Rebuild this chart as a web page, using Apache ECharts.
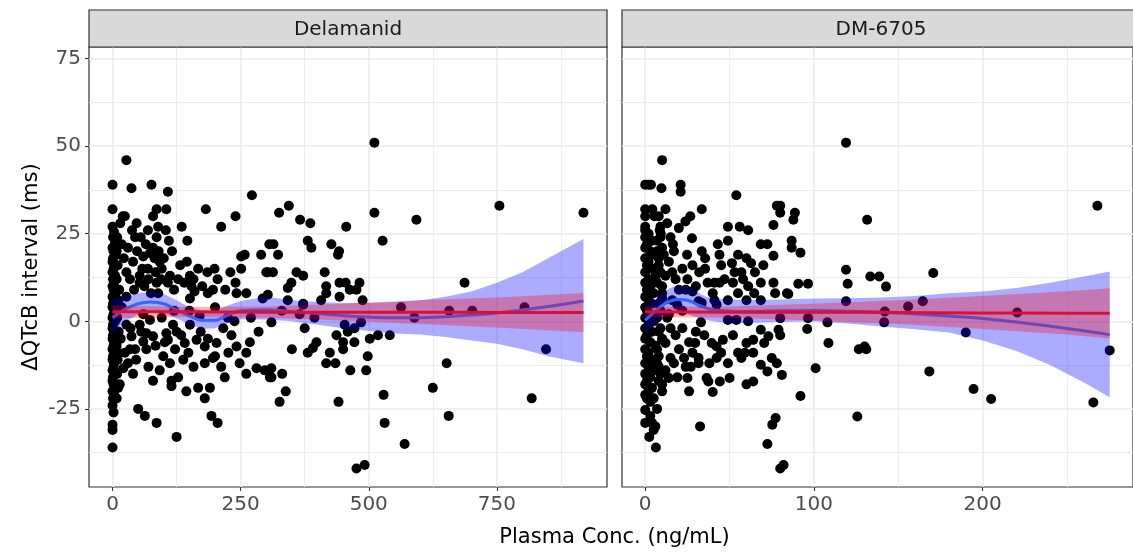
<!DOCTYPE html>
<html>
<head>
<meta charset="utf-8">
<script src="https://cdn.jsdelivr.net/npm/echarts@6/dist/echarts.min.js"></script>
<style>
  html, body { margin: 0; padding: 0; background: #ffffff; }
  #chart { width: 1133px; height: 552px; }
</style>
</head>
<body>
<div id="chart"></div>
<script>
// ---- Observations: [plasma concentration (ng/mL), ΔQTcB (ms)] ----
const delamanidPoints = [
  [0,39],[0,32],[0,27],[3,25.5],[1,24],[5,22.5],[0,21],[2,20],[6,19],[1,18],[0,17],[4,16],[2,15],[0,14],[5,13],[1,12],[3,11],[0,10],[2,9],[6,8],[0,7],[3,6],[1,5],[0,4],[4,3],[2,2],[0,1],[5,0],[1,-1],[0,-2],[3,-3],[1,-4],[0,-5],[4,-6],[2,-7],[0,-8],[5,-9],[1,-10],[0,-11],[3,-12],[2,-13],[0,-14],[4,-15],[1,-16],[0,-17],[2,-18],[5,-19],[0,-20],[3,-21],[1,-22],[0,-24],[2,-26],[0,-29.5],[0,-31],[0,-36],
  [9,24],[10,16],[8,12],[11,6],[9,1],[12,-3],[8,-7],[10,-11],[9,-15],[11,-19],[8,-22],[13,9],[12,-9],[8,20],
  [27,46],[37,38],[76,39],[108,37],[272,36],[20,30],[24,30],[47,28],[86,32],[105,32],[79,30],[69,26],[89,27],[135,27],[182,32],[240,30],[212,27],[146,23],[44,24],[86,24],[110,23],[40,17],[60,18.5],[73,19.5],[79,21],[92,17],[27,14],[53,13],[53,11],[69,15],[96,15],[112,13],[128,12],[86,11],[108,11],[151,13],[167,15],[199,15],[154,10],[160,8.5],[186,8],[196,9],[240,11],[242,8],[251,18.5],[258,19],[251,15],[290,19],[300,14],[306,22],[261,8],[89,8],[27,7],
  [511,51],[344,33],[325,31],[366,29],[386,28],[456,27],[511,31],[593,29],[527,23],[314,22],[323,19],[381,23],[388,21],[427,22],[442,20],[440,19],[303,14],[313,14],[359,14],[372,13],[414,14],[349,11],[342,9.5],[417,10],[417,8],[443,11],[455,11],[463,9],[482,11],[476,9],[443,7],[303,7.6],[342,6],[372,5],[407,6],[488,6],[563,4],
  [755,33],[919,31],[687,11],[657,3],[702,3],[804,4],[846,-8],[652,-12],[625,-19],[656,-27],[818,-22],
  [27,-1],[53,-1],[73,0.4],[96,1],[118,-1],[66,-3.4],[79,-4.3],[105,-3.4],[108,-5.3],[125,-3],[37,-4.3],[60,-5.8],[141,-6.2],[164,-5.3],[180,-7.2],[203,-6.2],[151,-1],[216,-2],[242,-7.2],[261,-9],[34,-8],[44,-8],[66,-8],[99,-10],[138,-11],[196,-10.5],[180,-12],[21,-13.4],[40,-15],[14,-18],[79,-17],[115,-17],[115,-18.5],[128,-16],[144,-20],[167,-19],[190,-19],[180,-22],[219,-16],[261,-15],[281,-13.4],[297,-14],[50,-25],[63,-27],[86,-29],[125,-33],[193,-27],[205,-29],[238,0],[307,-16],
  [310,-0.3],[375,-2],[437,-4],[459,-3],[472,-2],[453,-1],[485,-0.3],[518,-4],[541,-4],[502,-5],[472,-6],[450,-6],[450,-8],[398,-6],[391,-7.6],[381,-9],[424,-9],[417,-12],[435,-12],[464,-14],[495,-14],[498,-10],[310,-13.4],[310,-16],[331,-15],[338,-20],[326,-23],[441,-23],[529,-21],[531,-29],[570,-35],[476,-42],[492,-41],[589,1],[365,2],[394,1],[372,4.7],
  [151,6.5],[293,6.5],[200,4],[120,3],[60,2],[270,1],[170,1.5],
  [15,28],[18,22],[22,18],[30,21],[34,12],[38,26],[42,9],[48,20],[55,24],[58,15],[62,10],[65,22],[70,12],[75,8],[82,18],[84,14],[90,20],[95,12],[100,18],[104,26],[116,20],[120,9],[132,16],[140,11],[145,17],[158,12],[175,10],[185,14],[205,12],[220,9],[230,14],
  [16,-5],[24,-9],[30,-12],[46,-11],[56,-3],[70,-13],[84,-7],[92,-14],[102,-6],[112,-12],[122,-8],[134,-4],[148,-9],[158,-13],[172,-3],[186,-5],[200,-10],[212,-13],[226,-9],[232,-4],[248,-12],[268,-6],[285,-3],[18,4],[35,-2],[150,3],[225,1],[330,3],[350,-8]
];

const dm6705Points = [
  [0,27],[2,25],[0,24],[4,23],[1,22],[0,21],[3,20],[5,19],[0,18],[2,17],[1,16],[4,15],[0,14],[6,13],[2,12],[0,11],[3,10],[1,9],[5,8],[0,7],[2,6],[4,5],[0,4],[1,3],[3,2],[0,1],[5,0],[2,-1],[0,-2],[4,-3],[1,-4],[0,-5],[3,-6],[6,-7],[0,-8],[2,-9],[1,-10],[4,-11],[0,-12],[2,-13],[5,-14],[0,-15],[3,-16],[1,-17],[0,-18],[4,-19],[2,-20],[0,-21],[1,-22],[3,-23],[0,-25.3],[0,-29],[4,-29],[2.4,-33],[6.3,-36],
  [7,20],[8,16],[6,12],[9,3],[13,1],[7,-8],[8,-13],[10,-18],[5,-22],[9,24],[10,10],[8,-3],
  [8,30],[9,27],[7,23],[10,21],[8,18],[9,14],[7,11],[10,8],[8,5],[7,1],[9,-2],[10,-5],[8,-10],[7,-12],[9,-15],[8,-17],[10,-20],[7,-25],[6,-30],[3,-27],[5,-31],[2,39],
  [10,46],[0,39],[3.4,39],[9.6,38],[21,39],[21,37],[54,36],[0,32],[4.2,32],[12,32],[33.5,32],[0,30],[5.4,30],[26.7,30],[23.8,28.5],[19.9,26.6],[0,26],[8.6,26],[27.7,23.7],[49,27],[56,27],[61,26],[78,33],[80,31],[76,27.5],[49,23],[16.4,22],[9.2,25],[43,22],[33.5,20],[35.5,18],[44,19],[55,19],[60,18],[68.5,22],[72.4,22],[76,18.7],[51.4,16.6],[57,14],[62.7,16.6],[35.5,15],[24.8,19],[22,15],[16,14],[11,19],[12,13],[41,11],[44,11],[40,8],[52,11],[55,8],[61,10],[68.5,11],[64.6,8],[76,11],[77,8],[84,8],[24,9],[28,8.5],[10,6.6],[31.6,5.7],[41,6],[49,6],[60,6],[68.5,6],
  [13,28],[15,24],[17,20],[14,17],[18,12],[20,9],[16,6],[22,3],[25,12],[28,16],[30,10],[14,2],[18,-4],[20,-8],[22,-2],[26,-6],[28,-9],[30,-3],[12,-14],[19,-16],[27,-13],[35,-4],[38,-12],[45,-9],[47,12],[53,14],[58,12],[65,14],[70,16],[45,16],[37,11],[32,14],
  [119,51],[80,33],[88.7,31],[87.8,29],[131.5,29],[86.8,23],[86.8,21],[92,19.6],[119,14.7],[120,10.7],[133.4,12.8],[138.7,12.8],[170.7,13.8],[142.7,9.9],[90.7,10.7],[96.5,10.7],[84.8,7.8],[119,5.7],[155.8,4.2],[164.5,5.7],
  [268,33],[220.5,2.5],
  [15,-2],[10,-5.3],[12,-6.2],[33,-0.3],[29.6,-6.2],[39.4,-6.2],[42.3,-7.2],[46,-5.3],[52,-4],[60,-6.2],[64,-5.3],[68.5,-2.4],[73,-4.3],[79,-2.4],[80,-4],[70.5,-6.2],[75,-10.5],[15,-10.5],[17,-12],[23,-10.5],[24,-13],[31.6,-10.5],[31.6,-12],[42.3,-10.5],[49,-12],[55,-9],[59,-9],[64,-9],[57,-10.5],[68.5,-12.4],[72.4,-14.3],[78,-12],[81,-15.3],[14,-16.2],[25,-16.2],[36.4,-16.2],[37.4,-17.2],[44.2,-17.2],[50,-16.2],[60,-18],[64,-17.2],[26,-20],[40,-20.2],[32.5,-30],[77.3,-27.6],[75.3,-29.5],[72.4,-35],[80,-42],[82,-41],[33.5,5.2],[42.3,4.7],[49,0.4],[54,0.4],[61,0],[19,4.7],
  [96,-2.2],[96.5,0.9],[108,-0.3],[108.6,-6.2],[126.6,-8],[131,-8],[130,-7.2],[101,-13.4],[168.4,-14.3],[92,-21.3],[125.7,-27.2],[142,2.8],[141.6,-0.3],[80,0.9],
  [190,-3.2],[194.6,-19.3],[205,-22.2],[265.6,-23.2],[275.3,-8.3]
];

// ---- LOESS fit with confidence band ----
const delLoessX   = [0, 25, 50, 75, 100, 125, 150, 175, 200, 225, 250, 300, 350, 400, 450, 500, 550, 600, 650, 700, 750, 800, 850, 919];
const delLoessFit = [1.0, 3.5, 5.0, 5.5, 5.0, 3.3, 1.5, 0.3, 0.3, 1.8, 3.0, 3.2, 2.8, 2.2, 1.6, 1.2, 1.0, 1.0, 1.3, 1.8, 2.4, 3.2, 4.2, 5.8];
const delLoessLo  = [-3.5, 0, 2, 2.5, 2.3, 0.8, -0.8, -2.2, -2, -0.5, 0.6, 0.5, 0, -1, -2, -2.8, -3.5, -3.8, -4.5, -5.5, -6.4, -8, -10, -12];
const delLoessHi  = [6, 7, 8, 8.4, 7.8, 6, 4, 3, 3, 4.5, 5.8, 7, 6, 5.5, 5.2, 5.2, 5.5, 6, 7, 8.5, 11, 14, 18, 23.5];

const dmLoessX   = [0, 5, 10, 15, 20, 25, 30, 35, 40, 50, 60, 80, 100, 120, 140, 160, 180, 200, 220, 240, 260, 275.3];
const dmLoessFit = [0.3, 2.5, 4.5, 5.8, 6.2, 6.0, 5.0, 4.0, 3.3, 2.9, 2.8, 3.0, 3.1, 2.9, 2.6, 2.1, 1.5, 0.8, -0.2, -1.4, -2.7, -3.8];
const dmLoessLo  = [-3.5, -1, 1, 2, 2.3, 2.0, 1.2, 0.5, 0, -0.5, -0.5, -0.2, 0, -0.6, -1.5, -2.3, -3.2, -5.5, -8.5, -12.5, -17.5, -21.7];
const dmLoessHi  = [4, 6, 8, 9.6, 10.2, 10, 8.6, 7.2, 6.5, 6.2, 6.0, 6.2, 6.5, 6.6, 6.8, 7.2, 8, 8.5, 9.5, 11, 12.8, 14.2];

// ---- Linear fit with confidence band ----
const delLmX   = [0, 150, 300, 450, 600, 750, 919];
const delLmFit = [2.7, 2.7, 2.6, 2.6, 2.6, 2.5, 2.5];
const delLmLo  = [0.9, 1.3, 1.0, 0.2, -0.8, -1.8, -3.1];
const delLmHi  = [4.5, 4.1, 4.2, 5.0, 6.0, 6.8, 8.1];

const dmLmX   = [0, 50, 100, 150, 200, 250, 275.3];
const dmLmFit = [2.7, 2.6, 2.6, 2.5, 2.4, 2.3, 2.3];
const dmLmLo  = [1.2, 1.0, 0.2, -0.8, -2.2, -3.8, -4.9];
const dmLmHi  = [4.2, 4.2, 5.0, 6.0, 7.2, 8.6, 9.4];

// ---- Axis ticks ----
const yMajor = [-25, 0, 25, 50, 75];
const yMinor = [-37.5, -12.5, 12.5, 37.5, 62.5];
const delXMajor = [0, 250, 500, 750];
const delXMinor = [125, 375, 625, 875];
const dmXMajor = [0, 100, 200];
const dmXMinor = [50, 150, 250];

const panelNames = ['Delamanid', 'DM-6705'];
const xTitle = 'Plasma Conc. (ng/mL)';
const yTitle = 'ΔQTcB interval (ms)';

// ---- Layout ----
const FONT = 'DejaVu Sans';
const TOP = 47, H = 440, W = 518;
const panels = [
  { left: 89,  xRange: [-45.95, 964.95], major: delXMajor, minor: delXMinor },
  { left: 622, xRange: [-13.77, 289.1],  major: dmXMajor,  minor: dmXMinor }
];
const yRange = [-47.3, 78.3];
const GRID_COLOR = '#EBEBEB';

const grids = panels.map(p => ({
  left: p.left, top: TOP, width: W, height: H,
  show: true, borderColor: '#333333', borderWidth: 1.2, backgroundColor: 'transparent'
}));

const hiddenLine = { show: false, onZero: false };
const xAxes = [];
const yAxes = [];
panels.forEach((p, gi) => {
  xAxes.push({
    gridIndex: gi, type: 'value', min: p.xRange[0], max: p.xRange[1], position: 'bottom',
    axisLine: hiddenLine,
    axisTick: { show: true, length: 4, lineStyle: { color: '#333333', width: 1.1 }, customValues: p.major },
    axisLabel: { show: true, customValues: p.major, color: '#4D4D4D', fontSize: 20, fontFamily: FONT, margin: 8 },
    splitLine: { show: true, lineStyle: { color: GRID_COLOR, width: 1.6 } }
  });
  xAxes.push({
    gridIndex: gi, type: 'value', min: p.xRange[0], max: p.xRange[1], position: 'top',
    axisLine: hiddenLine,
    axisTick: { show: false, customValues: p.minor },
    axisLabel: { show: false, customValues: p.minor },
    splitLine: { show: true, lineStyle: { color: GRID_COLOR, width: 0.9 } }
  });
  yAxes.push({
    gridIndex: gi, type: 'value', min: yRange[0], max: yRange[1], position: 'left',
    axisLine: hiddenLine,
    axisTick: { show: gi === 0, length: 4, lineStyle: { color: '#333333', width: 1.1 }, customValues: yMajor },
    axisLabel: { show: gi === 0, customValues: yMajor, color: '#4D4D4D', fontSize: 20, fontFamily: FONT, margin: 8 },
    splitLine: { show: true, lineStyle: { color: GRID_COLOR, width: 1.6 } }
  });
  yAxes.push({
    gridIndex: gi, type: 'value', min: yRange[0], max: yRange[1], position: 'right',
    axisLine: hiddenLine,
    axisTick: { show: false, customValues: yMinor },
    axisLabel: { show: false, customValues: yMinor },
    splitLine: { show: true, lineStyle: { color: GRID_COLOR, width: 0.9 } }
  });
});

function bandSeries(axisIdx, xs, lo, hi, fill, z) {
  return {
    type: 'custom', xAxisIndex: axisIdx, yAxisIndex: axisIdx, z: z, silent: true, clip: true,
    data: xs.map((x, i) => [x, (lo[i] + hi[i]) / 2]),
    renderItem: function (params, api) {
      if (params.dataIndex !== 0) return null;
      const upper = xs.map((x, i) => api.coord([x, hi[i]]));
      const lower = xs.map((x, i) => api.coord([x, lo[i]])).reverse();
      return { type: 'polygon', shape: { points: upper.concat(lower) }, style: { fill: fill } };
    }
  };
}

function fitLine(axisIdx, xs, fit, color, smooth, z) {
  return {
    type: 'line', xAxisIndex: axisIdx, yAxisIndex: axisIdx, z: z, silent: true,
    symbol: 'none', smooth: smooth,
    data: xs.map((x, i) => [x, fit[i]]),
    lineStyle: { color: color, width: 3 }
  };
}

function scatter(axisIdx, pts) {
  return {
    type: 'scatter', xAxisIndex: axisIdx, yAxisIndex: axisIdx, z: 2, silent: true,
    data: pts, symbolSize: 10, itemStyle: { color: '#000000', opacity: 1 }
  };
}

const LOESS_FILL = 'rgba(0, 0, 255, 0.33)';
const LM_FILL = 'rgba(255, 0, 0, 0.30)';
const LOESS_COLOR = '#3366FF';
const LM_COLOR = '#D7103C';

const series = [
  scatter(0, delamanidPoints),
  bandSeries(0, delLoessX, delLoessLo, delLoessHi, LOESS_FILL, 3),
  fitLine(0, delLoessX, delLoessFit, LOESS_COLOR, 0.35, 4),
  bandSeries(0, delLmX, delLmLo, delLmHi, LM_FILL, 5),
  fitLine(0, delLmX, delLmFit, LM_COLOR, 0.3, 6),

  scatter(2, dm6705Points),
  bandSeries(2, dmLoessX, dmLoessLo, dmLoessHi, LOESS_FILL, 3),
  fitLine(2, dmLoessX, dmLoessFit, LOESS_COLOR, 0.35, 4),
  bandSeries(2, dmLmX, dmLmLo, dmLmHi, LM_FILL, 5),
  fitLine(2, dmLmX, dmLmFit, LM_COLOR, 0.3, 6)
];

// Facet strips and axis titles
const graphics = [];
panels.forEach((p, i) => {
  graphics.push({
    type: 'rect', z: 10, silent: true,
    shape: { x: p.left, y: 10, width: W, height: TOP - 10 },
    style: { fill: '#D9D9D9', stroke: '#333333', lineWidth: 1.2 }
  });
  graphics.push({
    type: 'text', z: 11, silent: true,
    x: p.left + W / 2, y: (10 + TOP) / 2 + 1,
    style: { text: panelNames[i], fill: '#1A1A1A', font: '20px "' + FONT + '"', textAlign: 'center', textVerticalAlign: 'middle' }
  });
});
graphics.push({
  type: 'text', z: 11, silent: true,
  x: (panels[0].left + panels[1].left + W) / 2, y: 538,
  style: { text: xTitle, fill: '#000000', font: '21px "' + FONT + '"', textAlign: 'center', textVerticalAlign: 'middle' }
});
graphics.push({
  type: 'text', z: 11, silent: true,
  x: 32, y: TOP + H / 2, rotation: Math.PI / 2,
  style: { text: yTitle, fill: '#000000', font: '21px "' + FONT + '"', textAlign: 'center', textVerticalAlign: 'middle' }
});

const chart = echarts.init(document.getElementById('chart'), null, { renderer: 'canvas' });
chart.setOption({
  animation: false,
  backgroundColor: '#ffffff',
  grid: grids,
  xAxis: xAxes,
  yAxis: yAxes,
  series: series,
  graphic: graphics
});
</script>
</body>
</html>
